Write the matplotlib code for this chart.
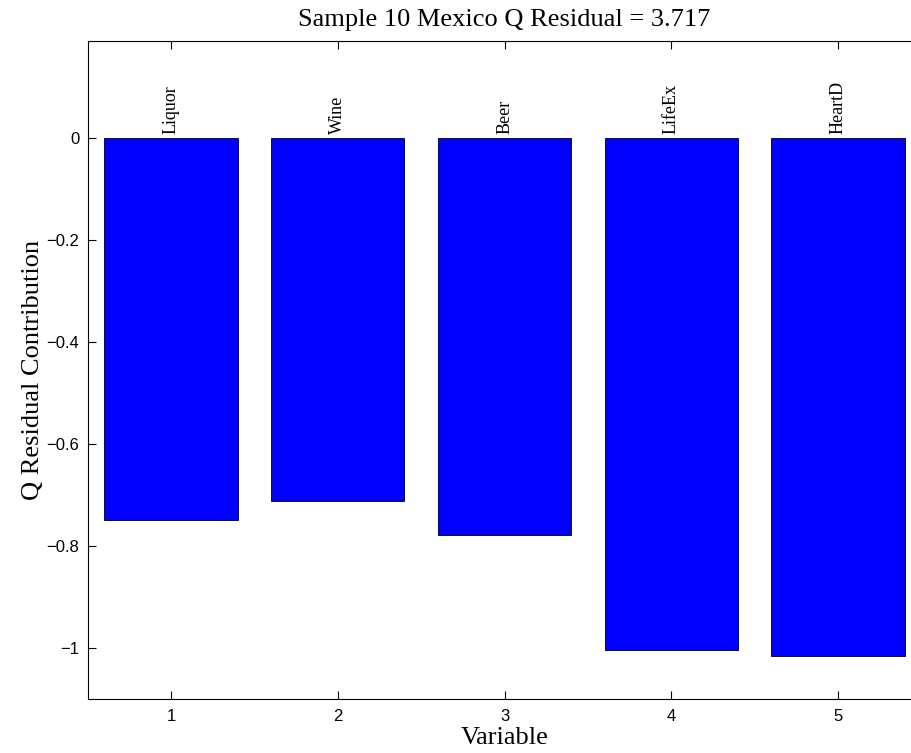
import numpy as np
import matplotlib.pyplot as plt

# data
variables = [1, 2, 3, 4, 5]
names = ['Liquor', 'Wine', 'Beer', 'LifeEx', 'HeartD']
contrib = [-0.748, -0.712, -0.778, -1.004, -1.016]
title = 'Sample 10 Mexico Q Residual = 3.717'

serif = 'Liberation Serif'
sans = 'Liberation Sans'

fig = plt.figure(figsize=(9.12, 7.53), dpi=100)
ax = fig.add_axes([87.5/912, (753-699.3)/753, (921.6-87.5)/912, (699.3-41)/753])

ax.bar(variables, contrib, width=0.8, color='#0000ff', edgecolor='black', linewidth=0.6)

for v, n in zip(variables, names):
    ax.text(v, 0.008, n, rotation=90, ha='center', va='bottom',
            fontsize=13, family=serif)

ax.set_xlim(0.5, 5.5)
ax.set_ylim(-1.1, 0.19)
ax.set_xticks(variables)
ax.set_yticks([-1, -0.8, -0.6, -0.4, -0.2, 0])
ax.set_yticklabels(['\u22121', '\u22120.8', '\u22120.6', '\u22120.4', '\u22120.2', '0'])
ax.tick_params(direction='in', length=6, top=True, right=True, labelsize=12)
ax.tick_params(axis='y', pad=6)
ax.tick_params(axis='x', pad=7)
for lab in ax.get_xticklabels() + ax.get_yticklabels():
    lab.set_family(sans)

ax.set_title(title, fontsize=19, family=serif, pad=11)
ax.set_xlabel('Variable', fontsize=19, family=serif, labelpad=2)
ax.set_ylabel('Q Residual Contribution', fontsize=19, family=serif, labelpad=2)

fig.savefig('out.png', dpi=100)
